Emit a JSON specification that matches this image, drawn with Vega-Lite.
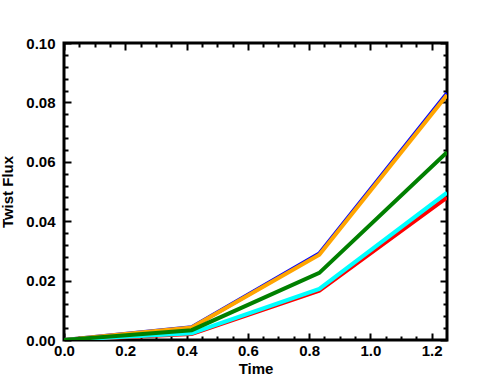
{
  "$schema": "https://vega.github.io/schema/vega-lite/v6.json",
  "width": 383,
  "height": 297,
  "autosize": {"type": "none"},
  "padding": {"left": 64, "top": 43, "right": 42, "bottom": 51},
  "background": "white",
  "config": {
    "view": {"stroke": "black", "strokeWidth": 3},
    "axis": {"domain": false, "grid": false, "tickColor": "black", "tickWidth": 2, "labelFont": "Liberation Sans", "labelFontWeight": "bold", "labelFontSize": 15, "labelColor": "black", "titleFont": "Liberation Sans", "titleFontWeight": "bold", "titleFontSize": 15, "titleColor": "black", "labelOverlap": false, "labelBound": false, "labelFlush": false}
  },
  "data": {"values": [
    {"t": 0, "flux": 0, "s": "a"},
    {"t": 0.4167, "flux": 0.0043, "s": "a"},
    {"t": 0.8333, "flux": 0.0291, "s": "a"},
    {"t": 1.25, "flux": 0.0831, "s": "a"},
    {"t": 0, "flux": 0, "s": "b"},
    {"t": 0.4167, "flux": 0.0042, "s": "b"},
    {"t": 0.8333, "flux": 0.0287, "s": "b"},
    {"t": 1.25, "flux": 0.0825, "s": "b"},
    {"t": 0, "flux": 0, "s": "c"},
    {"t": 0.4167, "flux": 0.002, "s": "c"},
    {"t": 0.8333, "flux": 0.0166, "s": "c"},
    {"t": 1.25, "flux": 0.048, "s": "c"},
    {"t": 0, "flux": 0, "s": "d"},
    {"t": 0.4167, "flux": 0.0023, "s": "d"},
    {"t": 0.8333, "flux": 0.0172, "s": "d"},
    {"t": 1.25, "flux": 0.0496, "s": "d"},
    {"t": 0, "flux": 0, "s": "e"},
    {"t": 0.4167, "flux": 0.0033, "s": "e"},
    {"t": 0.8333, "flux": 0.0226, "s": "e"},
    {"t": 1.25, "flux": 0.0632, "s": "e"}
  ]},
  "resolve": {"axis": {"x": "independent", "y": "independent"}},
  "layer": [
    {
      "mark": {"type": "line", "clip": true, "strokeWidth": 4},
      "encoding": {
        "x": {"field": "t", "type": "quantitative", "scale": {"domain": [0, 1.25], "nice": false},
          "axis": {"orient": "bottom", "title": "Time", "titlePadding": 0,
            "values": [0,0.05,0.1,0.15,0.2,0.25,0.3,0.35,0.4,0.45,0.5,0.55,0.6,0.65,0.7,0.75,0.8,0.85,0.9,0.95,1,1.05,1.1,1.15,1.2],
            "labelExpr": "round(datum.value*100) % 20 === 0 ? format(datum.value, '.1f') : ''",
            "tickSize": {"condition": {"test": "round(datum.value*100) % 20 === 0", "value": -7}, "value": -4},
            "labelPadding": 10}},
        "y": {"field": "flux", "type": "quantitative", "scale": {"domain": [0, 0.1], "nice": false},
          "axis": {"orient": "left", "title": "Twist Flux", "titlePadding": 10,
            "values": [0,0.004,0.008,0.012,0.016,0.02,0.024,0.028,0.032,0.036,0.04,0.044,0.048,0.052,0.056,0.06,0.064,0.068,0.072,0.076,0.08,0.084,0.088,0.092,0.096,0.1],
            "labelExpr": "round(datum.value*1000) % 20 === 0 ? format(datum.value, '.2f') : ''",
            "tickSize": {"condition": {"test": "round(datum.value*1000) % 20 === 0", "value": -7}, "value": -4},
            "labelPadding": 16}},
        "color": {"field": "s", "type": "nominal", "scale": {"domain": ["a", "b", "c", "d", "e"], "range": ["#0000ff", "#ffa500", "#ff0000", "#00ffff", "#008000"]}, "legend": null}
      }
    },
    {
      "mark": {"type": "line", "opacity": 0},
      "encoding": {
        "x": {"field": "t", "type": "quantitative", "scale": {"domain": [0, 1.25], "nice": false},
          "axis": {"orient": "top", "title": null, "labels": false,
            "values": [0,0.05,0.1,0.15,0.2,0.25,0.3,0.35,0.4,0.45,0.5,0.55,0.6,0.65,0.7,0.75,0.8,0.85,0.9,0.95,1,1.05,1.1,1.15,1.2],
            "tickSize": {"condition": {"test": "round(datum.value*100) % 20 === 0", "value": -7}, "value": -4}}},
        "y": {"field": "flux", "type": "quantitative", "scale": {"domain": [0, 0.1], "nice": false},
          "axis": {"orient": "right", "title": null, "labels": false,
            "values": [0,0.004,0.008,0.012,0.016,0.02,0.024,0.028,0.032,0.036,0.04,0.044,0.048,0.052,0.056,0.06,0.064,0.068,0.072,0.076,0.08,0.084,0.088,0.092,0.096,0.1],
            "tickSize": {"condition": {"test": "round(datum.value*1000) % 20 === 0", "value": -7}, "value": -4}}},
        "detail": {"field": "s"}
      }
    }
  ]
}
